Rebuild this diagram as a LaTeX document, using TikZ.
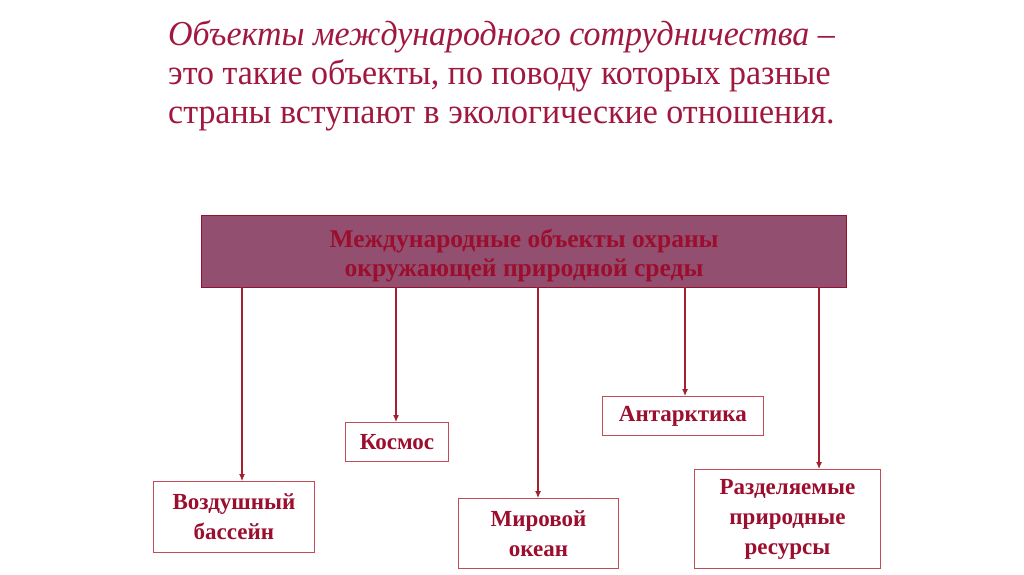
\documentclass[tikz,border=0pt]{standalone}
\usepackage{fontspec}
\setmainfont{Liberation Serif}
\newfontfamily\ttlserif[FakeStretch=0.97]{Liberation Serif}
\usetikzlibrary{arrows.meta}
\definecolor{ttl}{HTML}{A0173F}
\definecolor{dred}{HTML}{9B0E2E}
\definecolor{mauve}{HTML}{934F70}
\definecolor{lnc}{HTML}{A3202F}
\definecolor{bxc}{HTML}{C24B57}
\tikzset{
  ttlline/.style={anchor=base west, inner sep=0pt, text=ttl, font=\ttlserif\fontsize{35}{40}\selectfont},
  leaf/.style={draw=bxc, line width=0.9pt, fill=white, align=center, text=dred,
    font=\fontsize{23}{30}\selectfont\bfseries, inner sep=0pt, anchor=north west},
  arr/.style={draw=lnc, line width=1.1pt, -{Latex[length=7pt,width=6pt]}}
}
\begin{document}
\begin{tikzpicture}[x=1pt,y=-1pt]
\useasboundingbox[fill=white] (0,0) rectangle (1024,574);
\node[ttlline] (t1) at (168,45) {\itshape Объекты международного сотрудничества –};
\node[ttlline] (t2) at (168,84) {это такие объекты, по поводу которых разные};
\node[ttlline] (t3) at (168,123) {страны вступают в экологические отношения.};

\node[draw=dred, line width=1.2pt, fill=mauve, minimum width=645pt, minimum height=72pt,
  anchor=north west, inner sep=0pt] (top) at (201,215) {};
\node[inner sep=0pt, align=center, text=dred, font=\fontsize{25.5}{29}\selectfont\bfseries]
  (toptxt) at ([yshift=-4pt]top.center)
  {Международные объекты охраны\\окружающей природной среды};

\node[leaf, minimum width=161pt, minimum height=71pt] (voz) at (153,481) {Воздушный\\бассейн};
\node[leaf, minimum width=103pt, minimum height=39pt] (kos) at (345,422) {Космос};
\node[leaf, minimum width=160pt, minimum height=70pt] (okn) at (458,498) {Мировой\\океан};
\node[leaf, minimum width=161pt, minimum height=39pt] (ant) at (602,396) {Антарктика};
\node[leaf, minimum width=186pt, minimum height=99pt] (res) at (694,469) {Разделяемые\\природные\\ресурсы};

\coordinate (s1) at (242,287);
\coordinate (s2) at (396,287);
\coordinate (s3) at (538,287);
\coordinate (s4) at (685,287);
\coordinate (s5) at (819,287);
\draw[arr] (s1) -- (s1 |- voz.north);
\draw[arr] (s2) -- (s2 |- kos.north);
\draw[arr] (s3) -- (s3 |- okn.north);
\draw[arr] (s4) -- (s4 |- ant.north);
\draw[arr] (s5) -- (s5 |- res.north);
\end{tikzpicture}
\end{document}
